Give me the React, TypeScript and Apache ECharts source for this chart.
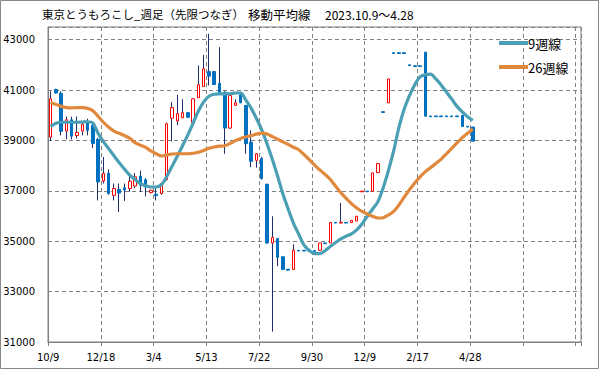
import React, { useEffect, useRef } from "react";
import * as echarts from "echarts";

// x-axis: 101 weekly slots, a labelled tick every 10 weeks
const categoryCount = 101;
const tickLabels = ["10/9", "12/18", "3/4", "5/13", "7/22", "9/30", "12/9", "2/17", "4/28", "", ""];

// weekly candles (2023.10.9 ~ 2025.4.28)
const opens = [
  39130, 41020, 40870, 39370, 39820, 39190, 39370, 39730, 39600, 39040,
  37390, 37700, 36820, 37050, 37120, 37090, 37190, 37580, 37440, 36930,
  36860, 36890, 37450, 39880, 39770, 39900, 40100, 39700, 40690, 41140,
  41730, 41730, 41270, 40910, 39490, 40390, 40810, 40390, 38930, 38210,
  38280, 37260, 34930, 35110, 34380, 33890, 33880, 34640, 34640, 34640,
  34630, 34640, 34930, 34930, 35750, 35720, 35750, 35740, 35800, 36960,
  36990, 36980, 37720, 40140, 40490, 42480, 42480, 42480, 42000, 41960,
  41960, 42500, 39970, 39970, 39970, 39970, 39970, 39970, 39990, 39560,
  39530,
];
const closes = [
  40650, 40880, 39360, 39820, 39170, 39320, 39630, 39400, 38880, 37350,
  37690, 36890, 37090, 36910, 37030, 37380, 37550, 37220, 37150, 37020,
  36810, 37290, 39660, 40300, 40060, 40100, 39920, 40650, 41210, 41840,
  41550, 41220, 40850, 39490, 40780, 40490, 40490, 38870, 38170, 38470,
  37480, 34930, 35150, 34360, 33880, 33850, 34640, 34610, 34610, 34610,
  34600, 34930, 34900, 35740, 35720, 35750, 35720, 35830, 35990, 36990,
  36960, 37710, 38080, 40110, 41440, 42450, 42450, 42450, 41970, 41930,
  41930, 39960, 39940, 39940, 39940, 39940, 39940, 39940, 39550, 39530,
  38970,
];
const lows = [
  38980, 40850, 39200, 39040, 39040, 39080, 39200, 39200, 38700, 36620,
  37290, 36850, 36620, 36160, 36600, 36960, 37100, 36950, 36780, 36900,
  36620, 36850, 37400, 38960, 39600, 39900, 39900, 39680, 40690, 41140,
  41180, 41200, 40830, 38470, 39450, 40390, 40480, 38470, 37940, 37920,
  37450, 34900, 31410, 34010, 33860, 33850, 33870, 34610, 34610, 34610,
  34600, 34640, 34900, 34930, 35720, 35720, 35720, 35740, 35800, 36960,
  36960, 36980, 37720, 40110, 40490, 42450, 42450, 42450, 41970, 41930,
  41930, 39960, 39940, 39940, 39940, 39940, 39940, 39940, 39550, 39530,
  38970,
];
const highs = [
  40950, 41050, 40950, 39950, 39940, 39950, 39700, 39860, 39750, 39100,
  38340, 37850, 37290, 37290, 37290, 37620, 37700, 37800, 37500, 37050,
  37100, 37300, 39700, 40520, 40810, 40630, 40120, 40680, 41970, 42390,
  43230, 41750, 42700, 40950, 40850, 40630, 40830, 40400, 39400, 38500,
  38350, 37280, 35990, 35120, 34400, 33890, 34880, 34640, 34640, 34640,
  34630, 34930, 34930, 35740, 35750, 36520, 35750, 35830, 35990, 36990,
  36990, 37710, 38080, 40140, 41440, 42480, 42480, 42480, 42000, 41960,
  41960, 42500, 39970, 39970, 39970, 39970, 39970, 39970, 39990, 39560,
  39530,
];

// moving averages
const ma9 = [
  39550, 39680, 39720, 39720, 39720, 39720, 39730, 39740, 39690, 39280,
  38950, 38670, 38390, 38110, 37860, 37620, 37450, 37280, 37200, 37150,
  37150, 37240, 37570, 37970, 38370, 38790, 39220, 39690, 40170, 40530,
  40750, 40830, 40850, 40850, 40850, 40880, 40880, 40600, 40280, 39870,
  39420, 38870, 38250, 37590, 36880, 36280, 35720, 35280, 34850, 34630,
  34510, 34510, 34620, 34790, 34950, 35090, 35200, 35290, 35450, 35680,
  35990, 36270, 36560, 37110, 37800, 38580, 39520, 40250, 40780, 41210,
  41520, 41610, 41630, 41440, 41200, 40920, 40640, 40350, 40130, 39940,
  39800,
];
const ma26 = [
  40500, 40420, 40350, 40300, 40290, 40300, 40300, 40270, 40180, 39950,
  39720, 39520, 39370, 39280, 39190, 39080, 38910, 38810, 38720, 38580,
  38470, 38380, 38420, 38460, 38470, 38470, 38470, 38490, 38530, 38600,
  38690, 38740, 38770, 38790, 38880, 38990, 39080, 39140, 39190, 39250,
  39290, 39250, 39150, 39050, 38940, 38840, 38730, 38630, 38440, 38240,
  38020, 37830, 37650, 37450, 37180, 36920, 36700, 36490, 36320, 36180,
  36080, 35990, 35920, 35930, 36040, 36180, 36440, 36750, 37040, 37310,
  37550, 37760, 37920, 38080, 38260, 38470, 38680, 38900, 39110, 39280,
  39450,
];

const seriesNames = ["9週線", "26週線"];
const titleParts = ["東京とうもろこし_週足（先限つなぎ）", "移動平均線", "2023.10.9～4.28"];

export default function App() {
  const ref = useRef<HTMLDivElement>(null);
  useEffect(() => {
    const chart = echarts.init(ref.current!, null, { renderer: "svg" });
    const categories = Array.from({ length: categoryCount }, (_, i) => String(i));
    const ohlc = opens.map((o, i) => [o, closes[i], lows[i], highs[i]]);
    const bodies = opens.map((o, i) => [o, closes[i], Math.min(o, closes[i]), Math.max(o, closes[i])]);
    const grey = "#808080";
    const cjk = '"Noto Sans CJK JP", sans-serif';
    chart.setOption({
      animation: false,
      backgroundColor: "#fff",
      grid: {
        left: 48, top: 27, right: 18, bottom: 27,
        show: true, borderColor: grey, borderWidth: 1, backgroundColor: "transparent",
      },
      graphic: [
        { type: "rect", shape: { x: 0.5, y: 0.5, width: 598, height: 368 }, style: { fill: "none", stroke: "#888", lineWidth: 1 }, silent: true },
        { type: "text", x: 42, y: 14, style: { text: titleParts[0], font: `11.5px ${cjk}`, fill: "#000", verticalAlign: "middle" } },
        { type: "text", x: 248, y: 14, style: { text: titleParts[1], font: `12.5px ${cjk}`, fill: "#000", verticalAlign: "middle" } },
        { type: "text", x: 325, y: 14, style: { text: titleParts[2], font: `12px ${cjk}`, fill: "#000", verticalAlign: "middle" } },
      ],
      legend: {
        data: seriesNames,
        orient: "vertical",
        left: 499,
        top: 36,
        icon: "rect",
        itemWidth: 29,
        itemHeight: 4,
        itemGap: 10,
        padding: 0,
        textStyle: { fontFamily: cjk, fontSize: 13, color: "#000", padding: [0, 0, 0, -5], height: 14, lineHeight: 14 },
      },
      xAxis: {
        type: "category",
        data: categories,
        boundaryGap: true,
        axisLine: { show: true, lineStyle: { color: grey } },
        axisTick: { show: true, interval: 9, length: 4, lineStyle: { color: grey } },
        axisLabel: {
          interval: 9,
          margin: 10,
          fontFamily: "DejaVu Sans",
          fontSize: 10,
          color: "#000",
          padding: [0, 5, 0, 0],
          formatter: (_v: string, idx: number) => (idx % 10 === 0 ? tickLabels[idx / 10] ?? "" : ""),
        },
        splitLine: { show: true, interval: 9, lineStyle: { color: grey, type: [4, 3], width: 1 } },
      },
      yAxis: {
        type: "value",
        min: 31000,
        max: 43500,
        interval: 2000,
        axisLine: { show: true, lineStyle: { color: grey } },
        axisTick: { show: false },
        axisLabel: {
          margin: 13, fontFamily: "DejaVu Sans", fontSize: 10, color: "#000", showMaxLabel: false,
          formatter: (v: number) => String(v),
        },
        splitLine: { show: true, lineStyle: { color: grey, type: [4, 3], width: 1 } },
      },
      series: [
        {
          name: "wick",
          type: "candlestick",
          data: ohlc,
          barWidth: 0.2,
          itemStyle: { color: "#1F2F6B", color0: "#1F2F6B", borderColor: "#1F2F6B", borderColor0: "#1F2F6B", borderWidth: 1 },
          z: 2,
        },
        {
          name: "body",
          type: "candlestick",
          data: bodies,
          barWidth: 3,
          itemStyle: { color: "#ffffff", color0: "#0070C0", borderColor: "#FF0000", borderColor0: "#0070C0", borderWidth: 1 },
          z: 3,
        },
        {
          name: seriesNames[0],
          type: "line",
          data: ma9,
          symbol: "none",
          smooth: 0.3,
          lineStyle: { color: "#4A9FB5", width: 3.2 },
          itemStyle: { color: "#4A9FB5" },
          z: 4,
        },
        {
          name: seriesNames[1],
          type: "line",
          data: ma26,
          symbol: "none",
          smooth: 0.3,
          lineStyle: { color: "#E0883C", width: 3.2 },
          itemStyle: { color: "#E0883C" },
          z: 4,
        },
      ],
    });
    return () => chart.dispose();
  }, []);
  return (
    <div
      ref={ref}
      style={{ position: "fixed", left: 0, top: 0, width: 599, height: 369, background: "#fff" }}
    />
  );
}
